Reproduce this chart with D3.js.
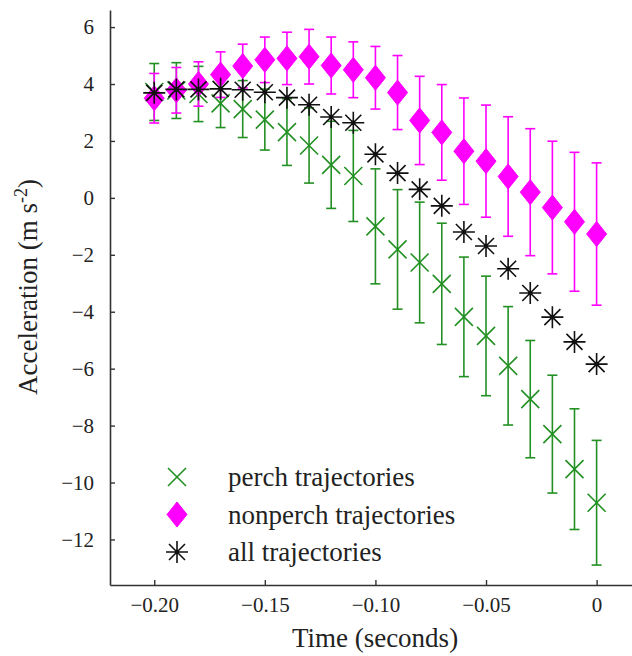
<!DOCTYPE html>
<html>
<head>
<meta charset="utf-8">
<script src="https://cdn.jsdelivr.net/npm/d3@7"></script>
<style>
  body { margin: 0; background: #fff; }
  svg text { font-family: "Liberation Serif", "Times New Roman", serif; fill: #222; }
</style>
</head>
<body>
<div id="chart"></div>
<script>
const times = [-0.20, -0.19, -0.18, -0.17, -0.16, -0.15, -0.14, -0.13, -0.12, -0.11,
               -0.10, -0.09, -0.08, -0.07, -0.06, -0.05, -0.04, -0.03, -0.02, -0.01, 0];

const perchMean = [3.72, 3.77, 3.65, 3.32, 3.12, 2.75, 2.31, 1.84, 1.16, 0.77,
                   -1.0, -1.81, -2.27, -3.02, -4.18, -4.85, -5.9, -7.07, -8.3, -9.53, -10.71];
const perchErr  = [1.0, 0.98, 0.97, 0.85, 1.0, 1.07, 1.17, 1.32, 1.53, 1.6,
                   2.02, 2.1, 2.12, 2.13, 2.1, 2.1, 2.08, 2.06, 2.07, 2.12, 2.19];

const nonperchMean = [3.5, 3.78, 4.0, 4.33, 4.63, 4.85, 4.9, 4.96, 4.65, 4.5,
                      4.22, 3.7, 2.72, 2.3, 1.64, 1.29, 0.75, 0.2, -0.34, -0.84, -1.27];
const nonperchErr  = [0.87, 0.8, 0.78, 0.8, 0.77, 0.8, 0.92, 0.96, 1.0, 0.98,
                      1.1, 1.3, 1.55, 1.68, 1.87, 1.97, 2.1, 2.23, 2.33, 2.44, 2.5];

const allMean = [3.69, 3.81, 3.81, 3.83, 3.8, 3.71, 3.52, 3.27, 2.84, 2.64,
                 1.53, 0.87, 0.3, -0.28, -1.2, -1.69, -2.49, -3.34, -4.19, -5.06, -5.84];

const xTicks = [-0.20, -0.15, -0.10, -0.05, 0];
const yTicks = [6, 4, 2, 0, -2, -4, -6, -8, -10, -12];
const legendLabels = ["perch trajectories", "nonperch trajectories", "all trajectories"];

const green = "#239023", magenta = "#ff00ff", black = "#111";

const W = 632, H = 656;
const svg = d3.select("#chart").append("svg").attr("width", W).attr("height", H);

const x = d3.scaleLinear().domain([-0.22, 0.016]).range([110, 632]);
const y = d3.scaleLinear().domain([-13.6, 6.6]).range([585, 10]);

const fmtX = d => d === 0 ? "0" : d3.format(".2f")(d).replace("-", "\u2212");
const fmtY = d => String(d).replace("-", "\u2212");

// axes, ticks pointing inward
const gx = svg.append("g").attr("transform", "translate(0,585)")
  .call(d3.axisBottom(x).tickValues(xTicks).tickSize(-5).tickSizeOuter(0).tickPadding(12).tickFormat(fmtX));
const gy = svg.append("g").attr("transform", "translate(110,0)")
  .call(d3.axisLeft(y).tickValues(yTicks).tickSize(-5).tickSizeOuter(0).tickPadding(16).tickFormat(fmtY));
[gx, gy].forEach(g => {
  g.select(".domain").attr("stroke", "#333").attr("stroke-width", 1.6);
  g.selectAll(".tick line").attr("stroke", "#333").attr("stroke-width", 1.4);
  g.selectAll(".tick text").style("font-size", "21px").style("font-family", "Liberation Serif, serif").attr("fill", "#333");
});

// error bars
function errorBars(means, errs, color) {
  const g = svg.append("g").attr("stroke", color).attr("stroke-width", 1.6).attr("fill", "none");
  times.forEach((t, i) => {
    const cx = x(t), top = y(means[i] + errs[i]), bot = y(means[i] - errs[i]);
    g.append("line").attr("x1", cx).attr("x2", cx).attr("y1", top).attr("y2", bot);
    g.append("line").attr("x1", cx - 5).attr("x2", cx + 5).attr("y1", top).attr("y2", top);
    g.append("line").attr("x1", cx - 5).attr("x2", cx + 5).attr("y1", bot).attr("y2", bot);
  });
}

const crossPath = "M-9,-9L9,9M-9,9L9,-9";
const diamondPath = "M0,-12.5L10,0L0,12.5L-10,0Z";
const starPath = "M-11,0L11,0M0,-11L0,11M-8,-8L8,8M-8,8L8,-8";

function drawCross(g, cx, cy) {
  g.append("path").attr("d", crossPath).attr("transform", `translate(${cx},${cy})`)
    .attr("stroke", green).attr("stroke-width", 1.6).attr("fill", "none");
}
function drawDiamond(g, cx, cy) {
  g.append("path").attr("d", diamondPath).attr("transform", `translate(${cx},${cy})`)
    .attr("fill", magenta).attr("stroke", magenta).attr("stroke-width", 1);
}
function drawStar(g, cx, cy) {
  const s = g.append("g").attr("transform", `translate(${cx},${cy})`);
  s.append("path").attr("d", starPath).attr("stroke", black).attr("stroke-width", 1.6).attr("fill", "none");
  s.append("circle").attr("r", 2.2).attr("fill", black);
}

errorBars(perchMean, perchErr, green);
const gp = svg.append("g");
times.forEach((t, i) => drawCross(gp, x(t), y(perchMean[i])));

errorBars(nonperchMean, nonperchErr, magenta);
const gn = svg.append("g");
times.forEach((t, i) => drawDiamond(gn, x(t), y(nonperchMean[i])));

const ga = svg.append("g");
times.forEach((t, i) => drawStar(ga, x(t), y(allMean[i])));

// legend
const legend = svg.append("g");
const drawers = [drawCross, drawDiamond, drawStar];
legendLabels.forEach((lab, i) => {
  const by = 486 + i * 37.5;
  drawers[i](legend, 177, by - 9);
  legend.append("text").attr("x", 228).attr("y", by).style("font-size", "27px").text(lab);
});

// axis labels
svg.append("text").attr("x", 375).attr("y", 647).attr("text-anchor", "middle")
  .style("font-size", "27px").text("Time (seconds)");

const yl = svg.append("text").attr("transform", "translate(37,287) rotate(-90)")
  .attr("text-anchor", "middle").style("font-size", "27px");
yl.append("tspan").text("Acceleration (m s");
yl.append("tspan").attr("dy", -10).style("font-size", "18px").text("-2");
yl.append("tspan").attr("dy", 10).text(")");
</script>
</body>
</html>
